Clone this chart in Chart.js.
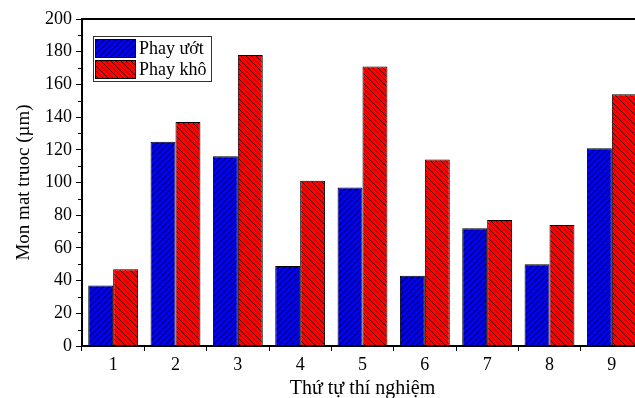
<!DOCTYPE html>
<html>
<head>
<meta charset="utf-8">
<script src="https://cdn.jsdelivr.net/npm/chart.js@4"></script>
<style>
html,body{margin:0;padding:0;background:#fff;overflow:hidden;width:635px;height:398px;}
canvas{display:block;}
</style>
</head>
<body>
<canvas id="c" width="660" height="398" style="width:660px;height:398px"></canvas>
<script>
const categories = ['1','2','3','4','5','6','7','8','9'];
const phayUot = [37, 125, 116, 49, 97, 43, 72, 50, 121];
const phayKho = [47, 137, 178, 101, 171, 114, 77, 74, 154];
const seriesNames = ['Phay ướt', 'Phay khô'];
const xTitle = 'Thứ tự thí nghiệm';
const yTitle = 'Mon mat truoc (µm)';
const yMin = 0, yMax = 200, yStep = 20;

const FONT = '"Liberation Serif", "Times New Roman", serif';

function hatch(bg, size, forward, lw) {
  const c = document.createElement('canvas');
  c.width = size; c.height = size;
  const g = c.getContext('2d');
  g.fillStyle = bg; g.fillRect(0, 0, size, size);
  g.strokeStyle = '#000'; g.lineWidth = lw;
  g.beginPath();
  if (forward) {
    for (let k = -1; k <= 1; k++) {
      g.moveTo(k * size, size); g.lineTo(k * size + size, 0);
    }
  } else {
    for (let k = -1; k <= 1; k++) {
      g.moveTo(k * size, 0); g.lineTo(k * size + size, size);
    }
  }
  g.stroke();
  return g.createPattern(c, 'repeat');
}

const ctx = document.getElementById('c').getContext('2d');
const blueFill = hatch('#0000ff', 6, true, 1.1);
const redFill = hatch('#ff0000', 5, false, 0.7);

const extras = {
  id: 'extras',
  afterDraw(chart) {
    const g = chart.ctx;
    const ca = chart.chartArea;
    const y = chart.scales.y;
    g.save();
    // top frame line
    g.strokeStyle = '#000'; g.lineWidth = 2;
    g.beginPath(); g.moveTo(ca.left - 1, ca.top); g.lineTo(ca.right + 1, ca.top); g.stroke();
    // minor y ticks
    g.lineWidth = 1;
    g.beginPath();
    for (let v = yMin + yStep / 2; v < yMax; v += yStep) {
      const py = Math.round(y.getPixelForValue(v)) + 0.5;
      g.moveTo(ca.left - 4, py); g.lineTo(ca.left, py);
    }
    g.stroke();
    // legend
    const bx = 93, by = 36, bw = 118, bh = 45;
    g.fillStyle = '#fff'; g.fillRect(bx, by, bw, bh);
    g.strokeStyle = '#333'; g.lineWidth = 1;
    g.strokeRect(bx + 0.5, by + 0.5, bw, bh);
    const fills = [blueFill, redFill];
    g.font = '18px ' + FONT;
    g.textBaseline = 'middle';
    for (let i = 0; i < 2; i++) {
      const sy = by + 3 + i * 21;
      g.fillStyle = fills[i];
      g.fillRect(bx + 2, sy, 41, 19);
      g.strokeStyle = '#000';
      g.strokeRect(bx + 2.5, sy + 0.5, 40, 18);
      g.fillStyle = '#000';
      g.fillText(seriesNames[i], bx + 46, sy + 10);
    }
    g.restore();
  }
};

new Chart(ctx, {
  type: 'bar',
  data: {
    labels: categories,
    datasets: [
      { label: seriesNames[0], data: phayUot, backgroundColor: blueFill, borderColor: '#000', borderWidth: 1 },
      { label: seriesNames[1], data: phayKho, backgroundColor: redFill, borderColor: '#000', borderWidth: 1 }
    ]
  },
  options: {
    responsive: false,
    devicePixelRatio: 1,
    animation: false,
    categoryPercentage: 0.8,
    barPercentage: 1.0,
    layout: { padding: { top: 19, right: 17, left: 0, bottom: 0 } },
    plugins: { legend: { display: false }, tooltip: { enabled: false } },
    scales: {
      x: {
        grid: { offset: true, drawOnChartArea: false, drawTicks: true, tickLength: 5, color: '#000', lineWidth: 1 },
        border: { display: true, color: '#000', width: 2 },
        ticks: { color: '#000', font: { family: FONT, size: 18 }, padding: 3 },
        title: { display: true, text: xTitle, color: '#000', font: { family: FONT, size: 20 }, padding: { top: 0, bottom: -3 } },
        afterFit(s) { s.height = 52; }
      },
      y: {
        min: yMin, max: yMax,
        grid: { drawOnChartArea: false, drawTicks: true, tickLength: 6, color: '#000', lineWidth: 1 },
        border: { display: true, color: '#000', width: 2 },
        ticks: { stepSize: yStep, color: '#000', font: { family: FONT, size: 18 }, padding: 4 },
        title: { display: true, text: yTitle, color: '#000', font: { family: FONT, size: 19 }, padding: { top: 13, bottom: 0 } },
        afterFit(s) { s.width = 82; }
      }
    }
  },
  plugins: [extras]
});
</script>
</body>
</html>
